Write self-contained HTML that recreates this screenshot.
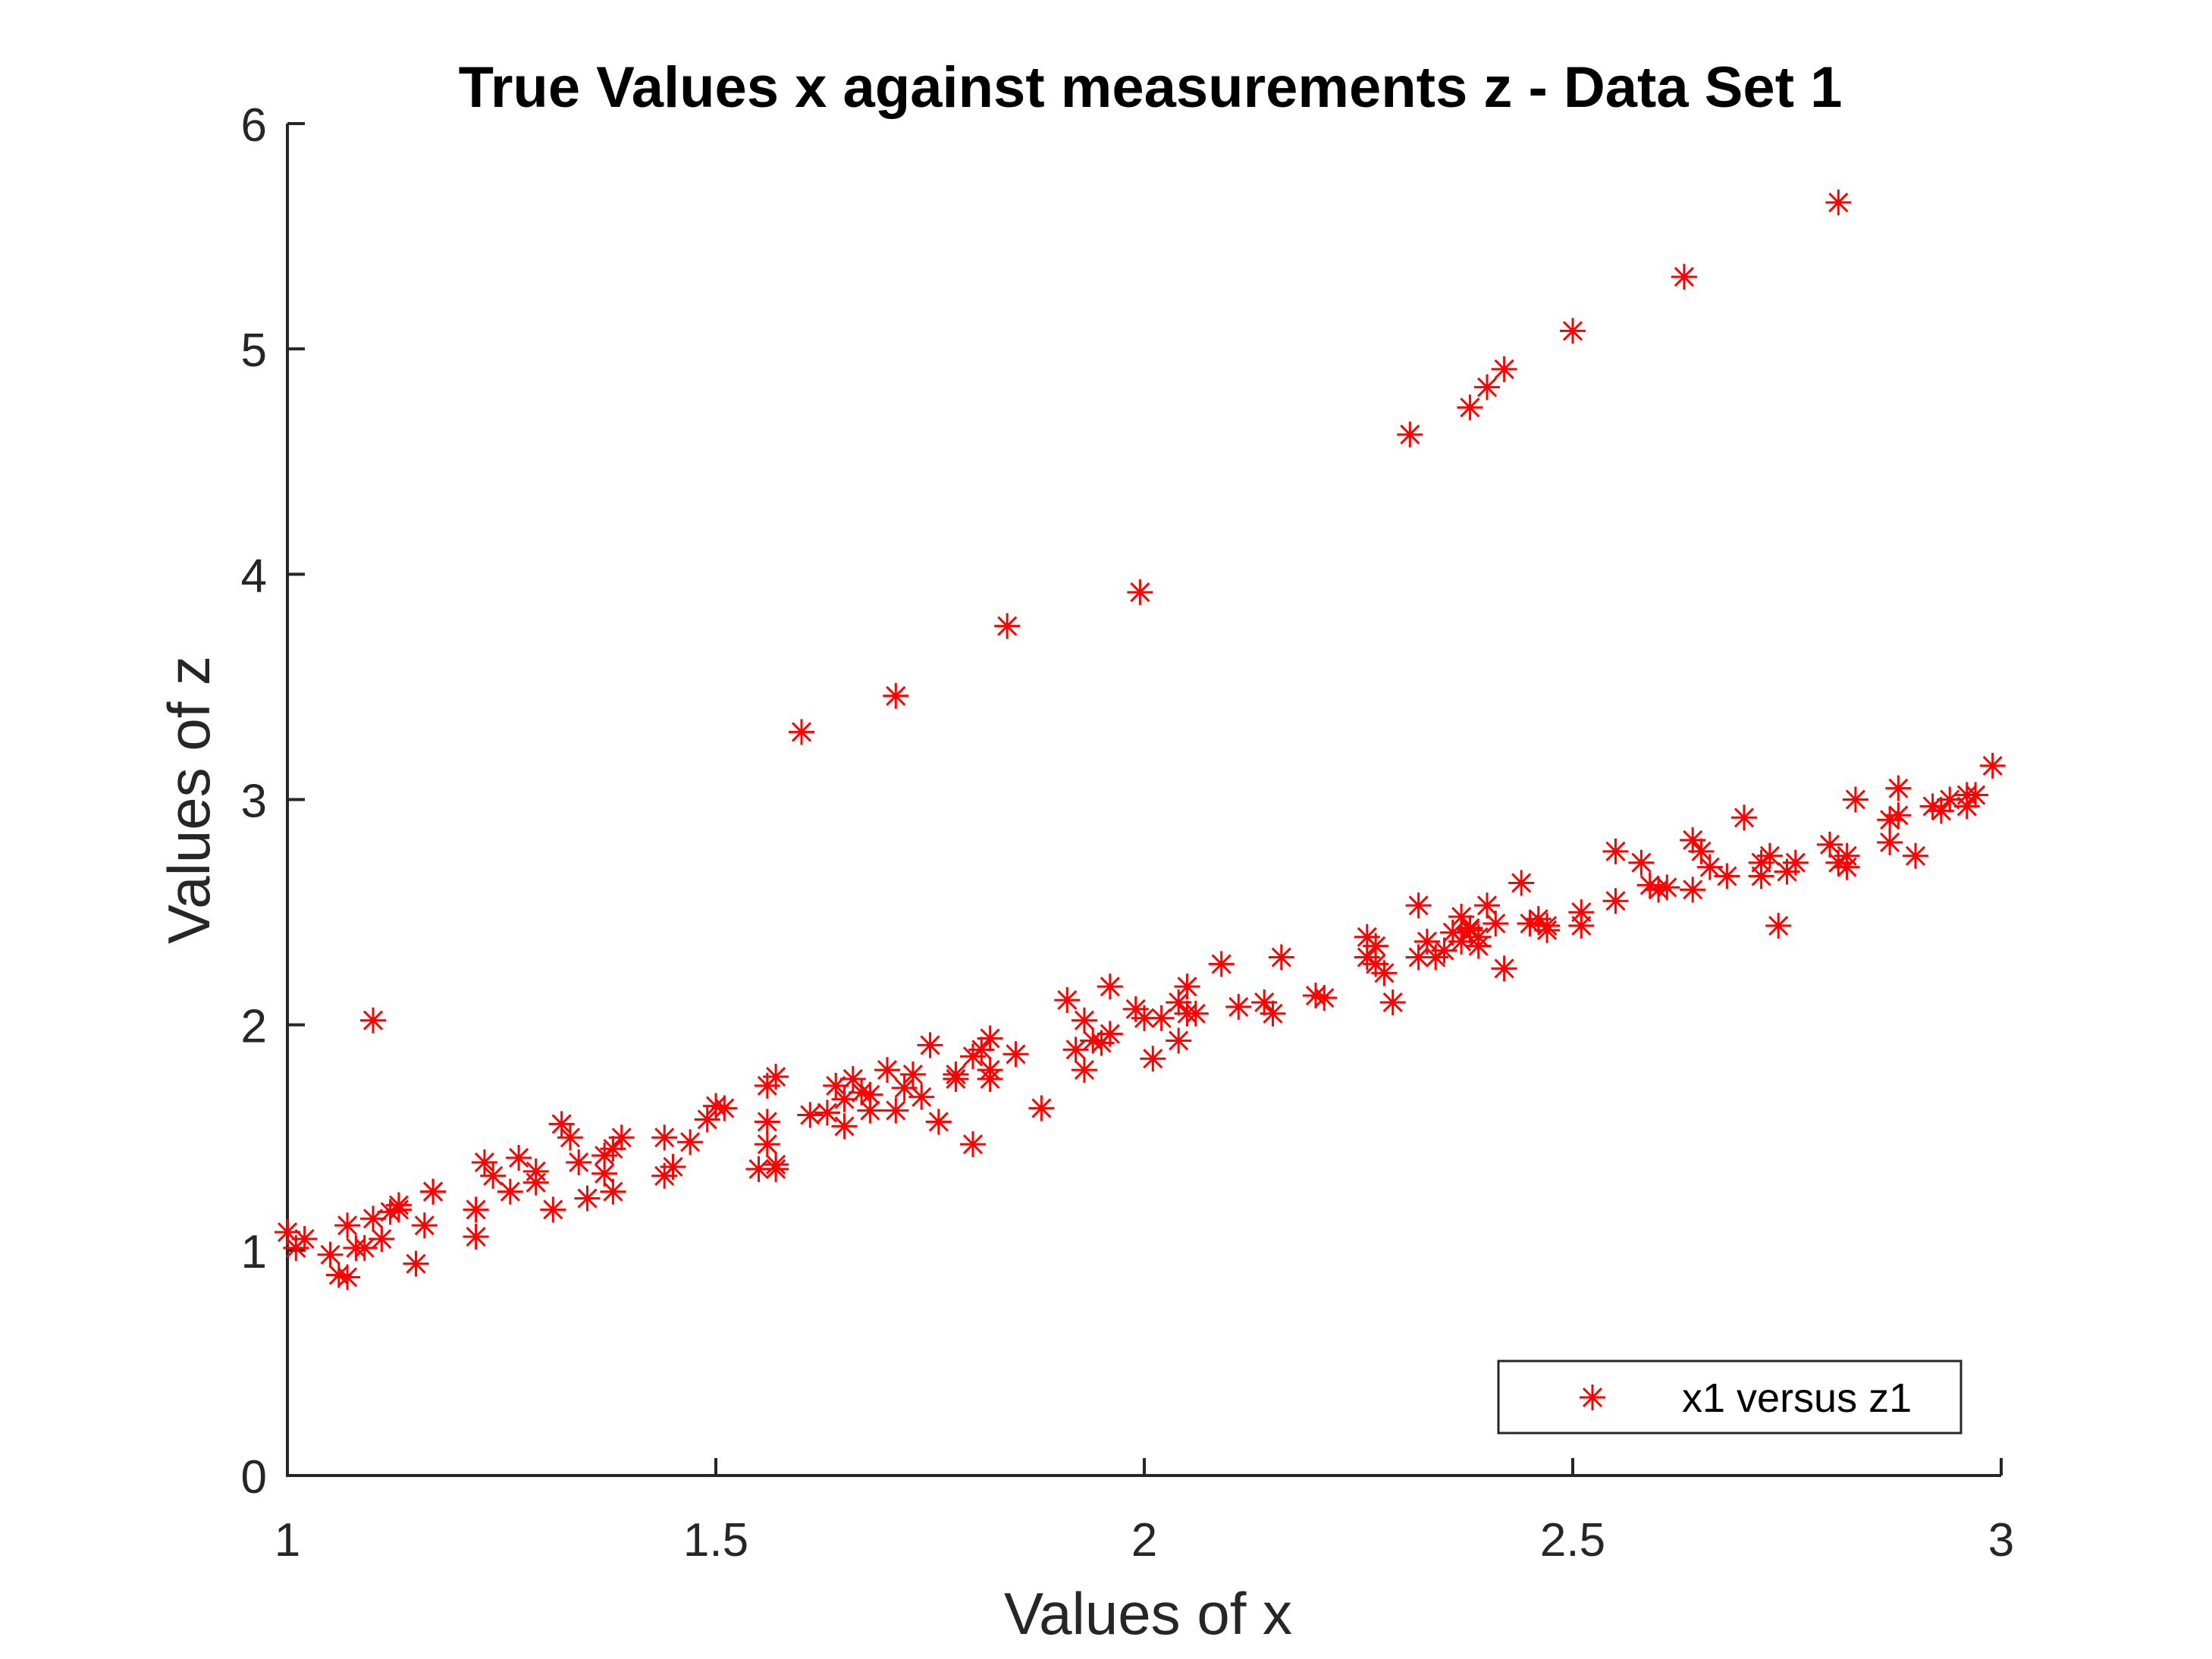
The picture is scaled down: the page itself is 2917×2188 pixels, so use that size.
<!DOCTYPE html>
<html><head><meta charset="utf-8"><style>
html,body{margin:0;padding:0;background:#fff;}
svg{display:block;font-family:"Liberation Sans",Arial,sans-serif;}
</style></head><body>
<svg id="chart" width="2917" height="2188" viewBox="0 0 2917 2188">
<rect width="2917" height="2188" fill="#fff"/>
<text x="1517" y="141" text-anchor="middle" font-size="76" font-weight="bold" fill="#000">True Values x against measurements z - Data Set 1</text>
<text x="1514" y="2155" text-anchor="middle" font-size="78" fill="#262626">Values of x</text>
<text transform="translate(276,1055) rotate(-90)" text-anchor="middle" font-size="78" fill="#262626">Values of z</text>
<g id="axes"></g>
<g id="points"></g>
<g>
<rect x="1976" y="1795" width="610" height="95" fill="#fff" stroke="#262626" stroke-width="3"/>
<g id="legendMarker"></g>
<text x="2218" y="1862" font-size="54" fill="#000">x1 versus z1</text>
</g>
</svg>
<script>
const xTicks=[1,1.5,2,2.5,3];
const xTickLabels=["1","1.5","2","2.5","3"];
const yTicks=[0,1,2,3,4,5,6];
const yTickLabels=["0","1","2","3","4","5","6"];
const xs=[1.00,1.01,1.02,1.05,1.06,1.07,1.07,1.08,1.09,1.10,1.11,1.12,1.13,1.13,1.15,1.16,1.17,1.17,1.22,1.22,1.23,1.24,1.26,1.27,1.29,1.29,1.31,1.32,1.33,1.34,1.35,1.37,1.37,1.38,1.38,1.39,1.44,1.44,1.45,1.47,1.49,1.50,1.51,1.55,1.56,1.56,1.56,1.57,1.57,1.57,1.61,1.63,1.64,1.65,1.65,1.66,1.67,1.68,1.68,1.70,1.71,1.72,1.73,1.74,1.75,1.76,1.78,1.78,1.80,1.81,1.82,1.82,1.80,1.82,1.85,1.88,1.91,1.92,1.93,1.93,1.94,1.95,1.96,1.96,1.99,2.00,2.01,2.02,2.04,2.04,2.05,2.05,2.06,2.09,2.11,2.14,2.15,2.16,2.20,2.21,2.26,2.26,2.27,2.27,2.28,2.29,2.32,2.32,2.33,2.34,2.35,2.36,2.37,2.37,2.38,2.38,2.39,2.39,2.40,2.41,2.42,2.44,2.45,2.46,2.47,2.47,2.51,2.51,2.55,2.55,2.58,2.59,2.60,2.61,2.64,2.64,2.65,2.66,2.68,2.70,2.72,2.72,2.73,2.74,2.75,2.76,2.80,2.83,2.81,2.82,2.82,2.88,2.88,2.87,2.90,2.87,2.92,2.93,2.94,2.96,2.96,2.97,2.99,
1.10,1.60,1.71,1.84,1.995,2.31,2.38,2.40,2.42,2.50,2.63,2.81];
const zs=[1.08,1.01,1.05,0.98,0.89,0.88,1.11,1.01,1.01,1.14,1.05,1.17,1.20,1.18,0.94,1.11,1.26,1.26,1.18,1.06,1.39,1.33,1.26,1.41,1.35,1.30,1.18,1.56,1.50,1.39,1.23,1.42,1.34,1.26,1.45,1.50,1.50,1.33,1.37,1.48,1.58,1.64,1.63,1.36,1.57,1.73,1.47,1.77,1.36,1.38,1.60,1.61,1.73,1.55,1.67,1.76,1.70,1.62,1.69,1.80,1.62,1.72,1.78,1.68,1.91,1.57,1.76,1.78,1.86,1.89,1.80,1.76,1.47,1.94,1.87,1.63,2.11,1.89,2.02,1.80,1.93,1.92,1.96,2.17,2.07,2.03,1.85,2.03,2.10,1.93,2.05,2.17,2.05,2.27,2.08,2.10,2.05,2.30,2.13,2.12,2.30,2.39,2.27,2.35,2.23,2.10,2.30,2.53,2.37,2.30,2.33,2.41,2.37,2.48,2.43,2.42,2.39,2.35,2.53,2.45,2.25,2.63,2.45,2.47,2.44,2.42,2.44,2.50,2.55,2.77,2.72,2.62,2.60,2.61,2.82,2.60,2.77,2.70,2.66,2.92,2.72,2.66,2.75,2.44,2.68,2.72,2.80,3.00,2.72,2.70,2.75,3.05,2.93,2.91,2.75,2.81,2.97,2.95,3.00,2.97,3.02,3.02,3.15,
2.02,3.30,3.46,3.77,3.92,4.62,4.74,4.83,4.91,5.08,5.32,5.65];
const L=379,R=2639,T=163,B=1946;
const sx=v=>L+(v-1)/2*(R-L);
const sy=v=>B-v/6*(B-T);
const NS="http://www.w3.org/2000/svg";
function mk(tag,attrs,parent){const e=document.createElementNS(NS,tag);for(const k in attrs)e.setAttribute(k,attrs[k]);parent.appendChild(e);return e;}
const ax=document.getElementById('axes');
let p=mk('path',{d:`M${L},${T}V${B}H${R}`,fill:'none',stroke:'#262626','stroke-width':4},ax);


xTicks.forEach((v,i)=>{
 const t=mk('line',{x1:sx(v),x2:sx(v),y1:B,y2:B-23,stroke:'#262626','stroke-width':4},ax);
 
 
 const l=mk('text',{x:sx(v),y:2052,'text-anchor':'middle','font-size':62,fill:'#262626'},ax);
 l.textContent=xTickLabels[i];
 
 
});
yTicks.forEach((v,i)=>{
 const t=mk('line',{x1:L,x2:L+23,y1:sy(v),y2:sy(v),stroke:'#262626','stroke-width':4},ax);
 
 
 const l=mk('text',{x:352,y:sy(v)+23,'text-anchor':'end','font-size':62,fill:'#262626'},ax);
 l.textContent=yTickLabels[i];
 
 
});
function star(cx,cy,parent){
 const r=17,d=12;
 return mk('path',{d:`M${cx-r},${cy}H${cx+r}M${cx},${cy-r}V${cy+r}M${cx-d},${cy-d}L${cx+d},${cy+d}M${cx-d},${cy+d}L${cx+d},${cy-d}`,stroke:'#ff0000','stroke-width':3,fill:'none'},parent);
}
const pts=document.getElementById('points');
xs.forEach((x,i)=>{
 const s=star(sx(x),sy(zs[i]),pts);
 
 
});
const lm=star(2100,1843,document.getElementById('legendMarker'));


</script>
</body></html>
